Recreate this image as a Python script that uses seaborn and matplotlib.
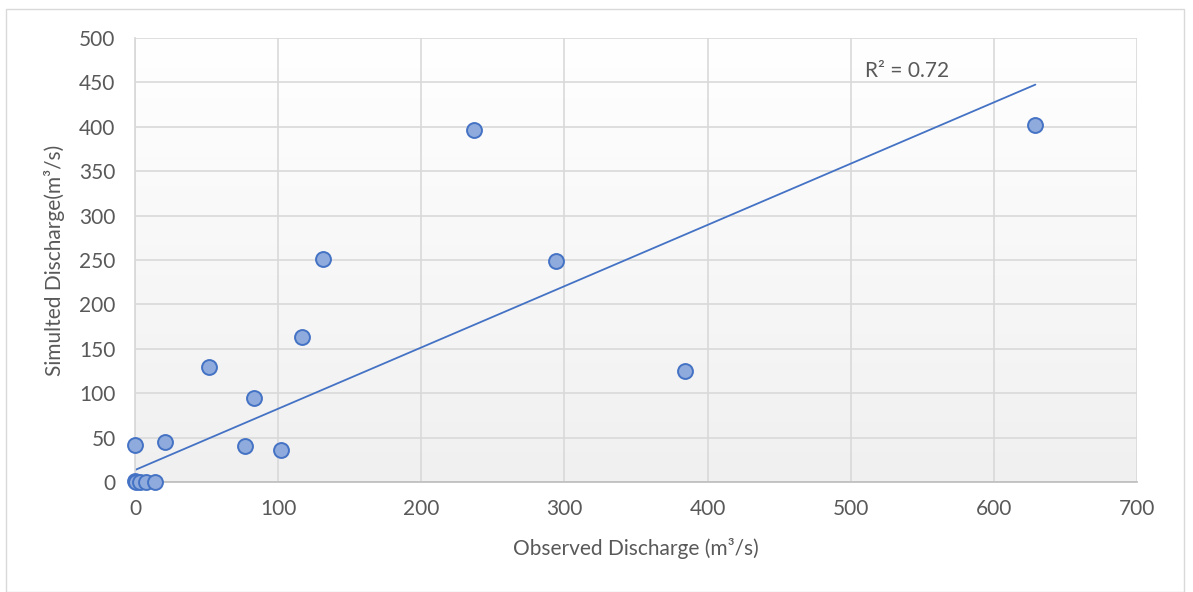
import numpy as np
import pandas as pd
import matplotlib
matplotlib.use("Agg")
import matplotlib.pyplot as plt
import seaborn as sns
from matplotlib.patches import Rectangle

observed = [0, 21, 52, 77, 83, 102, 117, 131, 237, 294, 384, 629, 0, 1, 3.5, 8, 14]
simulated = [42, 45, 130, 41, 95, 36, 163, 251, 396, 249, 125, 402, 1, 0.5, 0.5, 0.5, 0.5]
x_ticks = [0, 100, 200, 300, 400, 500, 600, 700]
y_ticks = [0, 50, 100, 150, 200, 250, 300, 350, 400, 450, 500]
# linear trendline as shown on the chart
trend_slope = 0.690
trend_intercept = 13.5
r_squared = 0.72

sns.set_theme(style="white")
plt.rcParams['font.family'] = ['Lato', 'DejaVu Sans']

df = pd.DataFrame({"obs": observed, "sim": simulated})

fig = plt.figure(figsize=(11.93, 5.92), dpi=100)
fig.patches.append(Rectangle((6/1193, 0), 1178/1193, 1 - 9/592, transform=fig.transFigure,
                             fill=False, edgecolor="#d9d9d9", linewidth=1.0))
ax = fig.add_axes([135/1193, 1 - 482/592, 1002/1193, 444/592])

grad = np.linspace(1, 0, 256).reshape(-1, 1)
ax.imshow(grad, extent=[0, 1, 0, 1], transform=ax.transAxes, aspect="auto",
          cmap=matplotlib.colors.LinearSegmentedColormap.from_list("g", ["#f0f0f0", "#ffffff"]),
          zorder=0)

ax.set_xlim(0, 700)
ax.set_ylim(0, 500)
ax.set_xticks(x_ticks)
ax.set_yticks(y_ticks)
ax.grid(True, color="#d9d9d9", linewidth=1.2, zorder=1)
ax.set_axisbelow(True)
for s in ax.spines.values():
    s.set_visible(False)
ax.spines["left"].set_visible(True)
ax.spines["bottom"].set_visible(True)
ax.spines["left"].set_color("#d9d9d9")
ax.spines["bottom"].set_color("#bfbfbf")

xs = np.array([min(observed), max(observed)])
ax.plot(xs, trend_slope * xs + trend_intercept, color="#4472C4", linewidth=1.3, zorder=2)

sns.scatterplot(data=df, x="obs", y="sim", ax=ax, s=115, color="#8FAADC",
                edgecolor="#4472C4", linewidth=1.4, zorder=3, clip_on=False)

ax.text(510, 456, f"R² = {r_squared:.2f}", fontsize=15, color="#595959")

ax.tick_params(axis="x", labelsize=15, labelcolor="#595959", length=0, pad=12)
ax.tick_params(axis="y", labelsize=15, labelcolor="#595959", length=0, pad=14)
ax.set_xlabel("Observed Discharge (m³/s)", fontsize=15, color="#595959", labelpad=14)
ax.set_ylabel("Simulted Discharge(m³/s)", fontsize=15, color="#595959", labelpad=10)

fig.savefig("out.png", dpi=100)
